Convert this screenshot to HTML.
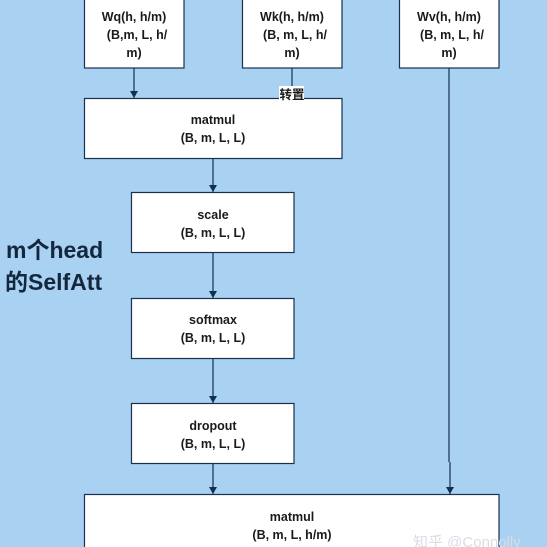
<!DOCTYPE html>
<html><head><meta charset="utf-8"><style>
html,body{margin:0;padding:0;background:#a9d1f1;}
svg{display:block}
text{font-family:"Liberation Sans","Noto Sans CJK SC",sans-serif;font-weight:bold;fill:#1a1a1a;}
</style></head><body>
<svg width="547" height="547" viewBox="0 0 547 547" xmlns="http://www.w3.org/2000/svg">
<rect width="547" height="547" fill="#a9d1f1"/>
<defs><marker id="a" markerWidth="7" markerHeight="8" refX="7" refY="4" orient="auto" markerUnits="userSpaceOnUse"><path d="M0,0 L7,4 L0,8 Z" fill="#14304f"/></marker></defs>
<g stroke="#1b3150" stroke-width="1.2" fill="#fff">
<rect x="84.5" y="-2" width="99.5" height="70"/>
<rect x="242.5" y="-2" width="99.5" height="70"/>
<rect x="399.5" y="-2" width="99.5" height="70"/>
<rect x="84.5" y="98.5" width="257.5" height="60"/>
<rect x="131.5" y="192.5" width="162.5" height="60"/>
<rect x="131.5" y="298.5" width="162.5" height="60"/>
<rect x="131.5" y="403.5" width="162.5" height="60"/>
<rect x="84.5" y="494.5" width="414.5" height="60"/>
</g>
<g stroke="#14304f" stroke-width="1.2" fill="none">
<line x1="134" y1="68" x2="134" y2="98" marker-end="url(#a)"/>
<line x1="292" y1="68" x2="292" y2="88"/>
<line x1="213" y1="159" x2="213" y2="192" marker-end="url(#a)"/>
<line x1="213" y1="253" x2="213" y2="298" marker-end="url(#a)"/>
<line x1="213" y1="359" x2="213" y2="403" marker-end="url(#a)"/>
<line x1="213" y1="464" x2="213" y2="494" marker-end="url(#a)"/>
<line x1="449" y1="68" x2="449" y2="462"/>
<line x1="450" y1="462" x2="450" y2="494" marker-end="url(#a)"/>
</g>
<rect x="279" y="86" width="25" height="14" fill="#fff"/>
<g font-size="12.5" text-anchor="middle">
<text x="134" y="21">Wq(h, h/m)</text><text x="137" y="39">(B,m, L, h/</text><text x="134" y="57">m)</text>
<text x="292" y="21">Wk(h, h/m)</text><text x="295" y="39">(B, m, L, h/</text><text x="292" y="57">m)</text>
<text x="449" y="21">Wv(h, h/m)</text><text x="452" y="39">(B, m, L, h/</text><text x="449" y="57">m)</text>
<text x="292" y="99">转置</text>
<text x="213" y="124">matmul</text><text x="213" y="142">(B, m, L, L)</text>
<text x="213" y="219">scale</text><text x="213" y="237">(B, m, L, L)</text>
<text x="213" y="324">softmax</text><text x="213" y="342">(B, m, L, L)</text>
<text x="213" y="430">dropout</text><text x="213" y="448">(B, m, L, L)</text>
<text x="292" y="521">matmul</text><text x="292" y="539">(B, m, L, h/m)</text>
</g>
<text x="6" y="258" font-size="23" style="fill:#13283f">m个head</text>
<text x="5" y="290" font-size="23" style="fill:#13283f">的SelfAtt</text>
<text x="413" y="547" font-size="15" style="fill:#d8dde3;font-weight:normal">知乎 @Connolly</text>
</svg>
</body></html>
